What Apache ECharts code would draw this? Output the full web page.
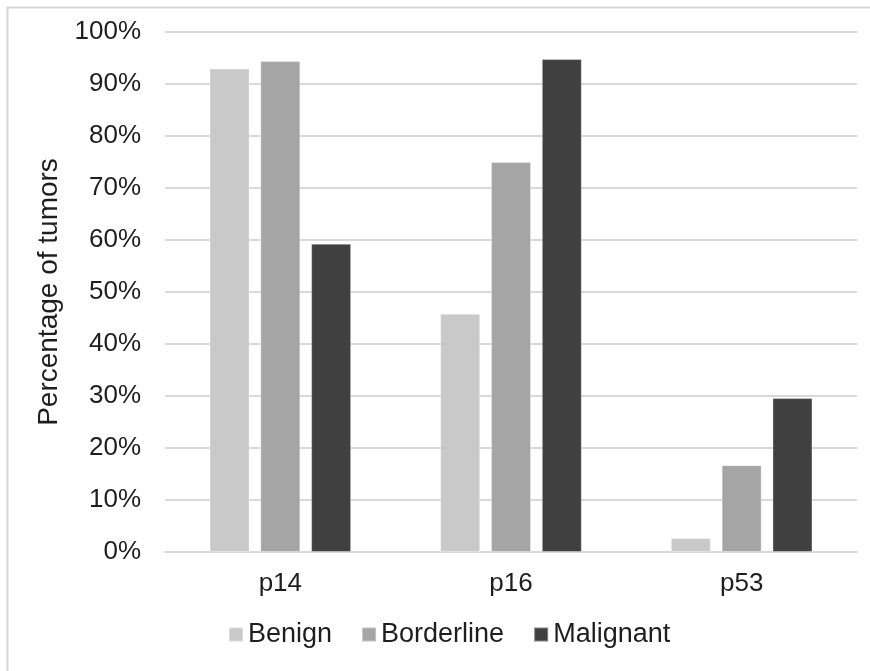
<!DOCTYPE html>
<html>
<head>
<meta charset="utf-8">
<script src="https://cdn.jsdelivr.net/npm/echarts@6/dist/echarts.min.js"></script>
<style>html,body{margin:0;padding:0;background:#fff;}#chart{width:870px;height:671px;}</style>
</head>
<body>
<div id="chart"></div>
<script>
const categories = ['p14', 'p16', 'p53'];
const benign = [93.0, 45.8, 2.7];
const borderline = [94.4, 75.0, 16.7];
const malignant = [59.3, 94.8, 29.6];
const seriesNames = ['Benign', 'Borderline', 'Malignant'];
const yTicks = [0, 10, 20, 30, 40, 50, 60, 70, 80, 90, 100];

const colors = ['#c9c9c9', '#a5a5a5', '#404040'];
const font = 'Liberation Sans, Arial, sans-serif';
const chart = echarts.init(document.getElementById('chart'), null, {renderer: 'canvas'});
const seriesData = [benign, borderline, malignant];
chart.setOption({
  animation: false,
  backgroundColor: '#fff',
  color: colors,
  graphic: [{
    type: 'rect', left: 5, top: 5, z: -1,
    shape: {width: 880, height: 680},
    style: {fill: 'none', stroke: '#d6d6d6', lineWidth: 2}
  }],
  grid: {left: 165, right: 13, top: 32, bottom: 119, containLabel: false},
  legend: {
    left: 223, top: 616,
    itemWidth: 14, itemHeight: 14, itemGap: 29,
    icon: 'rect',
    textStyle: {fontFamily: font, fontSize: 27, color: '#1e1e1e'},
    data: seriesNames
  },
  xAxis: {
    type: 'category',
    data: categories,
    axisLine: {show: true, lineStyle: {color: '#d9d9d9', width: 2}},
    axisTick: {show: false},
    axisLabel: {fontFamily: font, fontSize: 26, color: '#1e1e1e', margin: 19}
  },
  yAxis: {
    type: 'value',
    min: yTicks[0], max: yTicks[yTicks.length - 1], interval: 10,
    name: 'Percentage of tumors',
    nameLocation: 'middle',
    nameGap: 102,
    nameRotate: 90,
    nameTextStyle: {fontFamily: font, fontSize: 28, color: '#1e1e1e'},
    axisLine: {show: false},
    axisTick: {show: false},
    splitLine: {lineStyle: {color: '#d9d9d9', width: 2}},
    axisLabel: {fontFamily: font, fontSize: 26, color: '#1e1e1e', margin: 24, formatter: v => v + '%'}
  },
  series: seriesNames.map((n, i) => ({
    name: n,
    type: 'bar',
    data: seriesData[i],
    barWidth: 40,
    barGap: '27%',
    itemStyle: {color: colors[i], borderColor: 'rgba(255,255,255,0.35)', borderWidth: 1}
  }))
});
</script>
</body>
</html>
